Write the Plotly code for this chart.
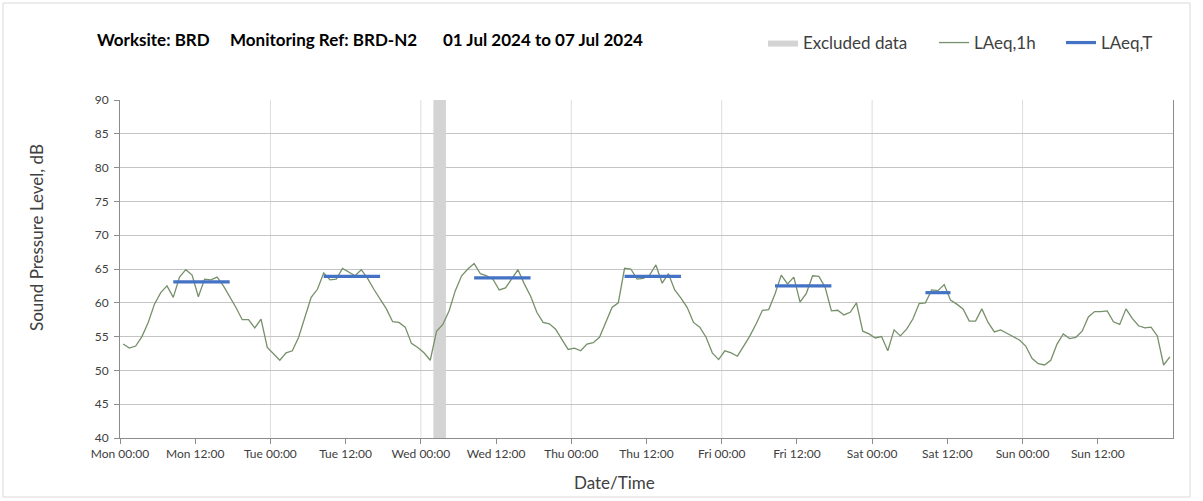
import numpy as np
import pandas as pd
import plotly.graph_objects as go

# ---- data ----
start_date = "2024-07-01"   # Monday
mon = [53.9, 53.3, 53.6, 55.0, 57.1, 59.8, 61.5, 62.5, 60.8, 63.8, 64.9, 64.1, 60.9, 63.5, 63.4, 63.8, 62.5, 61.0, 59.3, 57.5, 57.5, 56.3, 57.6, 53.4]
tue = [52.4, 51.5, 52.6, 52.9, 54.9, 57.8, 60.8, 62.0, 64.4, 63.4, 63.5, 65.1, 64.6, 64.0, 64.9, 63.6, 62.0, 60.5, 59.1, 57.2, 57.1, 56.4, 54.0, 53.4]
wed = [52.6, 51.5, 55.8, 56.8, 58.8, 61.8, 64.0, 65.0, 65.8, 64.3, 64.0, 63.5, 61.9, 62.2, 63.5, 64.9, 62.8, 61.0, 58.6, 57.1, 56.9, 56.1, 54.6, 53.1]
thu = [53.3, 52.9, 53.9, 54.1, 54.9, 57.1, 59.3, 60.0, 65.1, 65.0, 63.5, 63.6, 64.1, 65.6, 62.9, 64.3, 61.9, 60.7, 59.3, 57.1, 56.4, 54.9, 52.6, 51.6]
fri = [52.9, 52.6, 52.1, 53.6, 55.1, 56.9, 58.9, 59.0, 61.3, 64.1, 62.8, 63.8, 60.1, 61.4, 64.0, 63.9, 62.3, 58.8, 58.9, 58.2, 58.6, 60.0, 55.8, 55.4]
sat = [54.8, 55.0, 52.9, 56.0, 55.1, 56.1, 57.6, 59.9, 60.0, 61.9, 61.8, 62.7, 60.4, 59.8, 59.1, 57.3, 57.3, 59.1, 57.1, 55.7, 56.0, 55.5, 55.0, 54.5]
sun = [53.6, 51.8, 51.0, 50.8, 51.5, 53.9, 55.4, 54.7, 54.9, 55.8, 57.9, 58.7, 58.7, 58.8, 57.2, 56.8, 59.1, 57.7, 56.6, 56.3, 56.4, 55.1, 50.8, 52.0]

laeqT_days = ["2024-07-01", "2024-07-02", "2024-07-03", "2024-07-04", "2024-07-05", "2024-07-06"]
laeqT_start = ["08:30", "08:30", "08:30", "08:30", "08:30", "08:30"]
laeqT_end = ["17:30", "17:30", "17:30", "17:30", "17:30", "12:30"]
laeqT_values = [63.1, 63.9, 63.7, 63.9, 62.5, 61.5]

excluded_start = "2024-07-03 02:00"
excluded_end = "2024-07-03 04:00"

title_parts = ["Worksite: BRD", "Monitoring Ref: BRD-N2", "01 Jul 2024 to 07 Jul 2024"]

tick_labels = ["Mon 00:00", "Mon 12:00", "Tue 00:00", "Tue 12:00", "Wed 00:00", "Wed 12:00",
               "Thu 00:00", "Thu 12:00", "Fri 00:00", "Fri 12:00", "Sat 00:00", "Sat 12:00",
               "Sun 00:00", "Sun 12:00"]
day_starts = ["2024-07-02", "2024-07-03", "2024-07-04", "2024-07-05", "2024-07-06", "2024-07-07"]

y_range = [40, 90]
x_range = ["2024-07-01 00:00", "2024-07-08 00:00"]

# ---- build ----
laeq_1h = mon + tue + wed + thu + fri + sat + sun
times = pd.Timestamp(start_date) + pd.to_timedelta(np.arange(len(laeq_1h)) + 0.5, unit="h")
tick_vals = pd.Timestamp(start_date) + pd.to_timedelta(np.arange(len(tick_labels)) * 12, unit="h")

tx, ty = [], []
for d, s, e, v in zip(laeqT_days, laeqT_start, laeqT_end, laeqT_values):
    tx += [f"{d} {s}", f"{d} {e}", None]
    ty += [v, v, None]

font_family = "Lato, 'Open Sans', sans-serif"
PL, PR, PT, PB = 120, 1173, 100, 438
PW, PH = PR - PL, PB - PT


def px_x(x):
    return (x - PL) / PW


def px_y(y):
    return (PB - y) / PH


fig = go.Figure()

fig.add_trace(go.Scatter(
    x=[excluded_start, excluded_start, excluded_end, excluded_end, excluded_start],
    y=[y_range[0], y_range[1], y_range[1], y_range[0], y_range[0]],
    fill="toself", fillcolor="#d4d4d4", line=dict(width=0), mode="lines",
    name="Excluded data", hoverinfo="skip", legend="legend"))

fig.add_trace(go.Scatter(
    x=times, y=laeq_1h, mode="lines", name="LAeq,1h",
    line=dict(color="#76906a", width=1.3), legend="legend2"))

fig.add_trace(go.Scatter(
    x=tx, y=ty, mode="lines", name="LAeq,T",
    line=dict(color="#4472c4", width=3.2), legend="legend3"))

leg_common = dict(orientation="h", xanchor="left", yanchor="middle", y=px_y(43),
                  font=dict(size=17, color="#404040"), bgcolor="rgba(0,0,0,0)")

fig.update_layout(
    width=1203, height=501,
    margin=dict(l=PL, r=1203 - PR, t=PT, b=501 - PB, autoexpand=False),
    paper_bgcolor="white", plot_bgcolor="white",
    font=dict(family=font_family, color="#404040", size=12),
    showlegend=True,
    legend=dict(x=px_x(763), **leg_common),
    legend2=dict(x=px_x(934), **leg_common),
    legend3=dict(x=px_x(1061), **leg_common),
    xaxis=dict(type="date", range=x_range, tickmode="array", tickvals=list(tick_vals),
               ticktext=tick_labels, showgrid=False, zeroline=False, automargin=False,
               showline=True, linecolor="#8c8c8c", linewidth=1,
               ticks="outside", ticklen=5, tickcolor="#8c8c8c",
               tickfont=dict(size=12, color="#404040")),
    yaxis=dict(range=y_range, dtick=5, showgrid=True, gridcolor="#c4c4c4", gridwidth=1,
               zeroline=False, showline=True, mirror=True, linecolor="#8c8c8c", linewidth=1,
               ticks="outside", ticklen=5, tickcolor="#8c8c8c", automargin=False,
               tickfont=dict(size=12, color="#404040"), ticklabelstandoff=3),
)

# day-boundary vertical gridlines
for d in day_starts:
    fig.add_vline(x=d, line=dict(color="#dddddd", width=1), layer="below")

for txt, xl in zip(title_parts, [95, 228, 441]):
    fig.add_annotation(text=f"<b>{txt}</b>", xref="paper", yref="paper",
                       x=px_x(xl), y=px_y(40), xanchor="left", yanchor="middle",
                       showarrow=False, font=dict(size=17, color="#000000"))

fig.add_annotation(text="Date/Time", xref="paper", yref="paper",
                   x=px_x(614), y=px_y(483),
                   xanchor="center", yanchor="middle", showarrow=False,
                   font=dict(size=17, color="#404040"))
fig.add_annotation(text="Sound Pressure Level, dB", xref="paper", yref="paper",
                   x=px_x(36), y=px_y(238), textangle=-90,
                   xanchor="center", yanchor="middle", showarrow=False,
                   font=dict(size=17, color="#404040"))

# outer chart border
fig.add_shape(type="rect", xref="paper", yref="paper",
              x0=px_x(3), x1=px_x(1190), y0=px_y(497), y1=px_y(3),
              line=dict(color="#d9d9d9", width=1), layer="below")

fig.write_html("out.html", config={"displayModeBar": False},
               post_script="document.body.style.margin='0';")
